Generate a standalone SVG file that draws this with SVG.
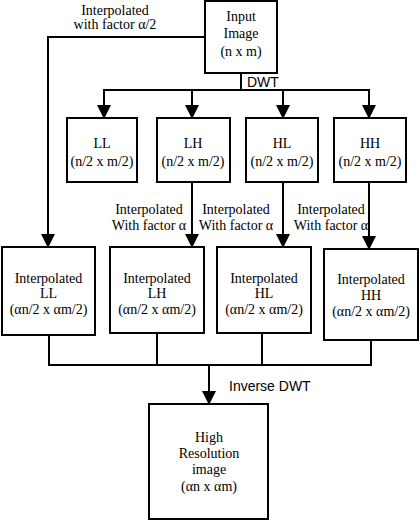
<svg xmlns="http://www.w3.org/2000/svg" width="420" height="520" viewBox="0 0 420 520">
<style>
.box{fill:#fff;stroke:#000;stroke-width:2}
.ln{fill:none;stroke:#000;stroke-width:2}
.t{font-family:"Liberation Serif","Times New Roman",serif;font-size:14px;fill:#000;text-anchor:middle}
.s{font-family:"Liberation Sans",Arial,sans-serif;font-size:14px;fill:#000}
</style>
<defs>
<marker id="ah" viewBox="0 0 14 14" refX="13" refY="7" markerWidth="14" markerHeight="14" markerUnits="userSpaceOnUse" orient="auto">
<path d="M0,0 L14,7 L0,14 z" fill="#000"/>
</marker>
</defs>
<rect width="420" height="520" fill="#fff"/>
<g id="connectors">
<polyline class="ln" points="205,37 48,37 48,247" marker-end="url(#ah)"/>
<line class="ln" x1="241" y1="73" x2="241" y2="90"/>
<line class="ln" x1="103" y1="90" x2="370" y2="90"/>
<line class="ln" x1="104" y1="90" x2="104" y2="118" marker-end="url(#ah)"/>
<line class="ln" x1="192" y1="90" x2="192" y2="118" marker-end="url(#ah)"/>
<line class="ln" x1="283" y1="90" x2="283" y2="118" marker-end="url(#ah)"/>
<line class="ln" x1="369" y1="90" x2="369" y2="118" marker-end="url(#ah)"/>
<line class="ln" x1="192" y1="182" x2="192" y2="247" marker-end="url(#ah)"/>
<line class="ln" x1="283" y1="182" x2="283" y2="247" marker-end="url(#ah)"/>
<line class="ln" x1="369" y1="182" x2="369" y2="249" marker-end="url(#ah)"/>
<polyline class="ln" points="49,335 49,365 371,365 371,340"/>
<line class="ln" x1="157" y1="333" x2="157" y2="365"/>
<line class="ln" x1="262" y1="333" x2="262" y2="365"/>
<line class="ln" x1="209" y1="365" x2="209" y2="404" marker-end="url(#ah)"/>
<text class="t" x="115" y="15">Interpolated</text>
<text class="t" x="115" y="29">with factor α/2</text>
<text class="s" x="247" y="87">DWT</text>
<text class="t" x="149" y="214">Interpolated</text>
<text class="t" x="149" y="230">With factor α</text>
<text class="t" x="236" y="214">Interpolated</text>
<text class="t" x="236" y="230">With factor α</text>
<text class="t" x="331" y="214">Interpolated</text>
<text class="t" x="331" y="230">With factor α</text>
<text class="s" x="229" y="391">Inverse DWT</text>
</g>
<g id="input">
<rect class="box" x="205" y="1" width="72" height="72"/>
<text class="t" x="241" y="21">Input</text>
<text class="t" x="241" y="38">Image</text>
<text class="t" x="241" y="56">(n x m)</text>
</g>
<g id="ll">
<rect class="box" x="67" y="118" width="70" height="64"/>
<text class="t" x="102" y="148">LL</text>
<text class="t" x="102" y="166">(n/2 x m/2)</text>
</g>
<g id="lh">
<rect class="box" x="157" y="118" width="73" height="64"/>
<text class="t" x="193" y="148">LH</text>
<text class="t" x="193" y="166">(n/2 x m/2)</text>
</g>
<g id="hl">
<rect class="box" x="246" y="118" width="72" height="64"/>
<text class="t" x="282" y="148">HL</text>
<text class="t" x="282" y="166">(n/2 x m/2)</text>
</g>
<g id="hh">
<rect class="box" x="334" y="118" width="72" height="64"/>
<text class="t" x="370" y="148">HH</text>
<text class="t" x="370" y="166">(n/2 x m/2)</text>
</g>
<g id="ill">
<rect class="box" x="2" y="247" width="93" height="88"/>
<text class="t" x="48.5" y="283">Interpolated</text>
<text class="t" x="48.5" y="298">LL</text>
<text class="t" x="48.5" y="314">(αn/2 x αm/2)</text>
</g>
<g id="ilh">
<rect class="box" x="110" y="247" width="94" height="86"/>
<text class="t" x="157" y="283">Interpolated</text>
<text class="t" x="157" y="298">LH</text>
<text class="t" x="157" y="314">(αn/2 x αm/2)</text>
</g>
<g id="ihl">
<rect class="box" x="217" y="247" width="94" height="86"/>
<text class="t" x="264" y="283">Interpolated</text>
<text class="t" x="264" y="298">HL</text>
<text class="t" x="264" y="314">(αn/2 x αm/2)</text>
</g>
<g id="ihh">
<rect class="box" x="324" y="249" width="94" height="91"/>
<text class="t" x="371" y="284">Interpolated</text>
<text class="t" x="371" y="300">HH</text>
<text class="t" x="371" y="316">(αn/2 x αm/2)</text>
</g>
<g id="highres">
<rect class="box" x="149" y="404" width="119" height="115"/>
<text class="t" x="209" y="442">High</text>
<text class="t" x="209" y="458">Resolution</text>
<text class="t" x="209" y="474">image</text>
<text class="t" x="209" y="491">(αn x αm)</text>
</g>
</svg>
